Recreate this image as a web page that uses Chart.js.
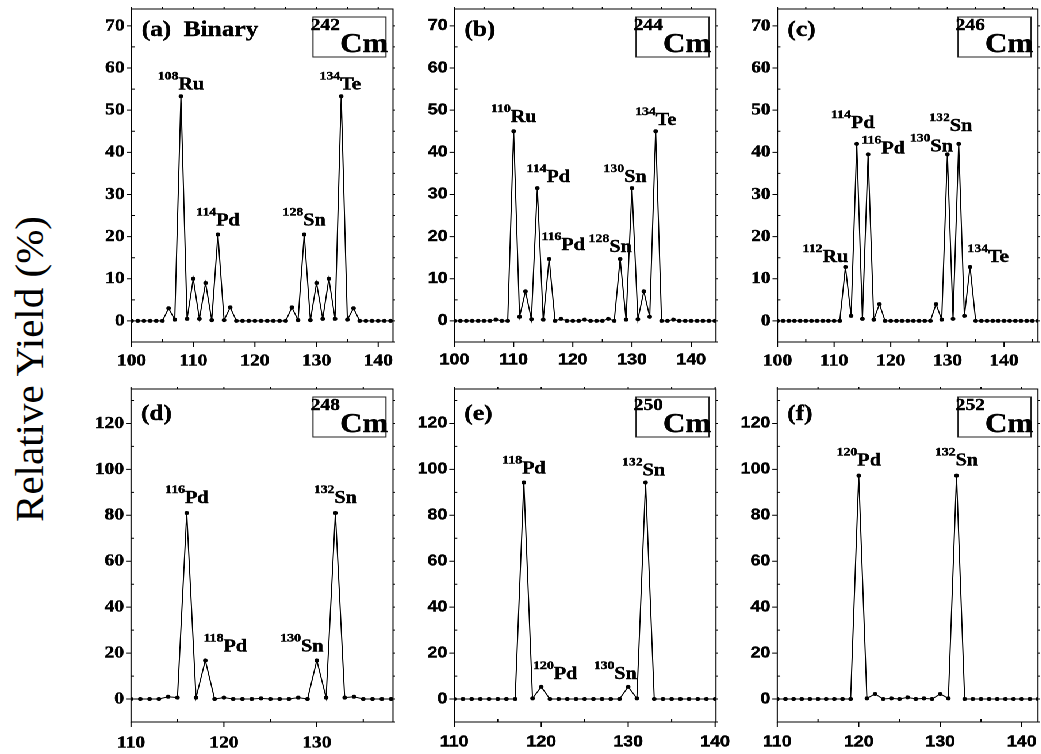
<!DOCTYPE html>
<html lang="en">
<head>
<meta charset="UTF-8" />
<title>Relative Yield of Cm Fission Fragments</title>
<script src="https://cdn.jsdelivr.net/npm/chart.js"></script>
<style>
  html, body { margin: 0; padding: 0; background: #fff; overflow: hidden; }
  #page { position: relative; width: 1041px; height: 754px; overflow: hidden; }
  #yTitle {
    position: absolute; left: 29px; top: 369px;
    transform: translate(-50%, -50%) rotate(-90deg);
    font: 41px "Liberation Serif", "Times New Roman", serif;
    line-height: 1; white-space: nowrap; color: #000;
  }
  /* the figure is drawn narrow and widened, like the original print */
  #fig { position: absolute; left: 0; top: 0; width: 906px; height: 754px;
         transform: scaleX(1.15); transform-origin: 0 0; }
  #fig canvas { position: absolute; }
</style>
</head>
<body>
<div id="page">
  <div id="yTitle">Relative Yield (%)</div>
  <div id="fig"></div>
</div>

<script>
// ---- data: fragment mass number and relative yield (%) ----
const massA  = [100,101,102,103,104,105,106,107,108,109,110,111,112,113,114,115,116,117,118,119,120,121,
                122,123,124,125,126,127,128,129,130,131,132,133,134,135,136,137,138,139,140,141,142];
const yieldA = [0,0,0,0,0,0,3.0,0.3,53.3,0.5,10.0,0.5,9.0,0.2,20.5,0.2,3.2,0,0,0,0,0,
                0,0,0,0,3.2,0.2,20.5,0.2,9.0,0.5,10.0,0.5,53.3,0.3,3.0,0,0,0,0,0,0];

const massB  = [100,101,102,103,104,105,106,107,108,109,110,111,112,113,114,115,116,117,118,119,120,121,122,
                123,124,125,126,127,128,129,130,131,132,133,134,135,136,137,138,139,140,141,142,143,144];
const yieldB = [0,0,0,0,0,0,0,0.3,0,0,45.0,1.0,7.0,0.4,31.5,0.3,14.7,0,0.5,0,0,0,0.3,
                0,0,0,0.5,0,14.7,0.3,31.5,0.4,7.0,1.0,45.0,0,0,0.3,0,0,0,0,0,0,0];

const massC  = [100,101,102,103,104,105,106,107,108,109,110,111,112,113,114,115,116,117,118,119,120,121,122,123,
                124,125,126,127,128,129,130,131,132,133,134,135,136,137,138,139,140,141,142,143,144,145,146];
const yieldC = [0,0,0,0,0,0,0,0,0,0,0,0,12.8,1.2,42.0,0.5,39.5,0.3,4.0,0,0,0,0,0,
                0,0,0,0,4.0,0.3,39.5,0.5,42.0,1.2,12.8,0,0,0,0,0,0,0,0,0,0,0,0];

const massD  = [110,111,112,113,114,115,116,117,118,119,120,121,122,123,124,125,126,127,128,129,130,131,132,133,
                134,135,136,137,138];
const yieldD = [0,0,0,0,1.0,0.6,81.0,0.6,16.8,0,0.6,0,0,0,0.3,0,0,0,0.6,0,16.8,0.6,81.0,0.6,
                1.0,0,0,0,0];

const massE  = [110,111,112,113,114,115,116,117,118,119,120,121,122,123,124,125,126,127,128,129,130,131,132,133,
                134,135,136,137,138,139,140];
const yieldE = [0,0,0,0,0,0,0,0,94.3,0.3,5.3,0,0,0,0,0,0,0,0,0,5.3,0.3,94.3,0,
                0,0,0,0,0,0,0];

const massF  = [110,111,112,113,114,115,116,117,118,119,120,121,122,123,124,125,126,127,128,129,130,131,132,133,
                134,135,136,137,138,139,140,141,142];
const yieldF = [0,0,0,0,0,0,0,0,0,0,97.3,0.3,2.2,0,0.3,0,0.7,0,0.3,0,2.2,0.3,97.3,0,
                0,0,0,0,0,0,0,0,0];

// ---- axis ticks ----
const xTicksTop    = [100, 110, 120, 130, 140];
const xMinorTop    = [105, 115, 125, 135, 145];
const yTicksTop    = [0, 10, 20, 30, 40, 50, 60, 70];
const yMinorTop    = [-5, 5, 15, 25, 35, 45, 55, 65];
const xTicksBottom = [110, 120, 130, 140];
const xMinorBottom = [115, 125, 135];
const yTicksBottom = [0, 20, 40, 60, 80, 100, 120];
const yMinorBottom = [-10, 10, 30, 50, 70, 90, 110, 130];

// ---- peak labels: [mass superscript, element, peak mass, x shift, y shift] ----
const peaksA = [['108','Ru',108,0,-7], ['114','Pd',114,0,-9], ['128','Sn',128,0,-9], ['134','Te',134,-1,-7]];
const peaksB = [['110','Ru',110,0,-9], ['114','Pd',114,11,-6], ['116','Pd',116,14,-9],
                ['128','Sn',128,-10,-7], ['130','Sn',130,-7,-6], ['134','Te',134,0,-6]];
const peaksC = [['112','Ru',112,-20,-5], ['114','Pd',114,-4,-16], ['116','Pd',116,15,-1],
                ['130','Sn',130,-16,-3], ['132','Sn',132,-8,-13], ['134','Te',134,18,-5]];
const peaksD = [['116','Pd',116,0,-10], ['118','Pd',118,20,-9], ['130','Sn',130,-15,-9], ['132','Sn',132,0,-10]];
const peaksE = [['118','Pd',118,0,-9], ['120','Pd',120,14,-8], ['130','Sn',130,-13,-8], ['132','Sn',132,-2,-7]];
const peaksF = [['120','Pd',120,0,-10], ['132','Sn',132,0,-10]];

const STRETCH = 1.15;
const SERIF = '"Liberation Serif", "Times New Roman", serif';
const SANS = '"Liberation Sans", Arial, sans-serif';

// canvas rows start a little above the frame so the top tick label has room
const rowTop = { ct: -12, ch: 392, yMin: -5, yMax: 74, xTicks: xTicksTop, xMinor: xMinorTop,
                 yTicks: yTicksTop, yMinor: yMinorTop, titleDy: 27, xPad: 9 };
const rowBottom = { ct: 368, ch: 386, yMin: -10, yMax: 135, xTicks: xTicksBottom, xMinor: xMinorBottom,
                    yTicks: yTicksBottom, yMinor: yMinorBottom, titleDy: 31, xPad: 11 };

const serifTicks = { family: SERIF, size: 17, weight: 'bold' };
const sansTicks = { family: SANS, size: 15.5, weight: 'bold' };

const panels = [
  { row: rowTop, title: '(a)  Binary', nucleus: '242', masses: massA, yields: yieldA, peaks: peaksA,
    xMin: 100, xMax: 142.4, tickFont: serifTicks, area: [131.6, 9, 393, 342] },
  { row: rowTop, title: '(b)', nucleus: '244', masses: massB, yields: yieldB, peaks: peaksB,
    xMin: 100, xMax: 144.2, tickFont: sansTicks, area: [454.5, 9, 716, 342] },
  { row: rowTop, title: '(c)', nucleus: '246', masses: massC, yields: yieldC, peaks: peaksC,
    xMin: 100, xMax: 146, tickFont: serifTicks, area: [777.5, 9, 1038, 342] },
  { row: rowBottom, title: '(d)', nucleus: '248', masses: massD, yields: yieldD, peaks: peaksD,
    xMin: 110, xMax: 138.2, tickFont: serifTicks, area: [131, 389, 393, 722] },
  { row: rowBottom, title: '(e)', nucleus: '250', masses: massE, yields: yieldE, peaks: peaksE,
    xMin: 110, xMax: 140.1, tickFont: sansTicks, area: [454.3, 389, 716, 722] },
  { row: rowBottom, title: '(f)', nucleus: '252', masses: massF, yields: yieldF, peaks: peaksF,
    xMin: 110, xMax: 142, tickFont: sansTicks, area: [777.3, 389, 1038, 722] }
];

// bold text with a thin outline, closer to the heavy print lettering
function heavyText(ctx, str, x, y) {
  ctx.fillText(str, x, y);
  ctx.strokeText(str, x, y);
}

// frame, tick marks, panel letter, nucleus box and peak labels
function drawDecor(chart, p) {
  const { ctx, chartArea: a, scales: { x, y } } = chart;
  const r = p.row;
  const h = 1 / STRETCH;
  ctx.save();
  ctx.strokeStyle = '#000';
  ctx.lineWidth = 1;
  ctx.strokeRect(a.left, a.top, a.right - a.left, a.bottom - a.top);

  ctx.beginPath();
  const inX = v => v >= p.xMin && v <= p.xMax;
  const inY = v => v >= r.yMin && v <= r.yMax;
  x.ticks.forEach(t => {
    const px = x.getPixelForValue(t.value);
    ctx.moveTo(px, a.bottom); ctx.lineTo(px, a.bottom + 5);
    ctx.moveTo(px, a.top); ctx.lineTo(px, a.top - 2);
  });
  r.xMinor.filter(inX).forEach(v => {
    const px = x.getPixelForValue(v);
    ctx.moveTo(px, a.bottom); ctx.lineTo(px, a.bottom - 3);
    ctx.moveTo(px, a.top); ctx.lineTo(px, a.top - 2);
  });
  y.ticks.forEach(t => {
    const py = y.getPixelForValue(t.value);
    ctx.moveTo(a.left, py); ctx.lineTo(a.left - 5 * h, py);
    ctx.moveTo(a.right, py); ctx.lineTo(a.right + 2 * h, py);
  });
  r.yMinor.filter(inY).forEach(v => {
    const py = y.getPixelForValue(v);
    ctx.moveTo(a.left, py); ctx.lineTo(a.left + 3 * h, py);
    ctx.moveTo(a.right, py); ctx.lineTo(a.right + 2 * h, py);
  });
  ctx.stroke();

  ctx.fillStyle = '#000';
  ctx.lineWidth = 0.4;
  ctx.textBaseline = 'alphabetic';
  ctx.textAlign = 'left';

  // panel letter
  ctx.font = `bold 22px ${SERIF}`;
  heavyText(ctx, p.title, a.left + 10 * h, a.top + r.titleDy);

  // nucleus box, e.g. 242Cm
  const bw = 73 * h, bh = 40;
  const bx = a.right - 7 * h - bw, by = a.top + 8;
  ctx.save();
  ctx.lineWidth = 1;
  ctx.strokeStyle = '#222';
  ctx.strokeRect(bx, by, bw, bh);
  ctx.restore();
  ctx.font = `bold 17px ${SERIF}`;
  const w1 = ctx.measureText(p.nucleus).width;
  ctx.font = `bold 27px ${SERIF}`;
  const w2 = ctx.measureText('Cm').width;
  const sx = bx + (bw - w1 - w2) / 2;
  ctx.font = `bold 17px ${SERIF}`;
  heavyText(ctx, p.nucleus, sx, by + 13);
  ctx.font = `bold 27px ${SERIF}`;
  heavyText(ctx, 'Cm', sx + w1, by + 35);

  // fragment labels over the peaks
  p.peaks.forEach(([sup, sym, mass, dx, dy]) => {
    const px = x.getPixelForValue(mass);
    const py = y.getPixelForValue(p.yields[p.masses.indexOf(mass)]);
    ctx.font = `bold 12px ${SERIF}`;
    const ws = ctx.measureText(sup).width;
    ctx.font = `bold 17.5px ${SERIF}`;
    const we = ctx.measureText(sym).width;
    const lx = px + dx * h - (ws + we) / 2;
    const base = py + dy;
    ctx.font = `bold 12px ${SERIF}`;
    heavyText(ctx, sup, lx, base - 10);
    ctx.font = `bold 17.5px ${SERIF}`;
    heavyText(ctx, sym, lx + ws, base);
  });
  ctx.restore();
}

function makePanel(p) {
  const r = p.row;
  const [pl, pt, pr, pb] = p.area;
  const cl = Math.floor((pl - 64) / STRETCH);
  const cr = Math.ceil((pr + 30) / STRETCH);
  const canvas = document.createElement('canvas');
  canvas.width = cr - cl;
  canvas.height = r.ch;
  canvas.style.left = cl + 'px';
  canvas.style.top = r.ct + 'px';
  document.getElementById('fig').appendChild(canvas);

  const axisW = pl / STRETCH - cl;
  const padR = cr - pr / STRETCH;
  const axisH = r.ch - (pb - r.ct);
  const tickOpts = { font: p.tickFont, color: '#000', autoSkip: false, maxRotation: 0,
                     textStrokeColor: '#000', textStrokeWidth: 0.4 };

  new Chart(canvas, {
    type: 'line',
    data: {
      datasets: [{
        data: p.masses.map((m, i) => ({ x: m, y: p.yields[i] })),
        borderColor: '#000',
        borderWidth: 1,
        pointRadius: 2,
        pointBorderWidth: 0,
        pointBackgroundColor: '#000',
        tension: 0,
        clip: 0
      }]
    },
    options: {
      responsive: false,
      devicePixelRatio: 2,
      animation: false,
      layout: { padding: { top: pt - r.ct, right: padR, left: 0, bottom: 0 } },
      plugins: { legend: { display: false }, tooltip: { enabled: false } },
      scales: {
        x: {
          type: 'linear', min: p.xMin, max: p.xMax,
          grid: { display: false, drawTicks: false },
          border: { display: false },
          ticks: { ...tickOpts, padding: r.xPad },
          afterBuildTicks: s => { s.ticks = r.xTicks.filter(v => v >= p.xMin && v <= p.xMax).map(v => ({ value: v })); },
          afterFit: s => { s.height = axisH; }
        },
        y: {
          type: 'linear', min: r.yMin, max: r.yMax,
          grid: { display: false, drawTicks: false },
          border: { display: false },
          ticks: { ...tickOpts, padding: 6 },
          afterBuildTicks: s => { s.ticks = r.yTicks.map(v => ({ value: v })); },
          afterFit: s => { s.width = axisW; }
        }
      }
    },
    plugins: [{ id: 'panelDecor', afterDraw: chart => drawDecor(chart, p) }]
  });
}

panels.forEach(makePanel);
</script>
</body>
</html>
